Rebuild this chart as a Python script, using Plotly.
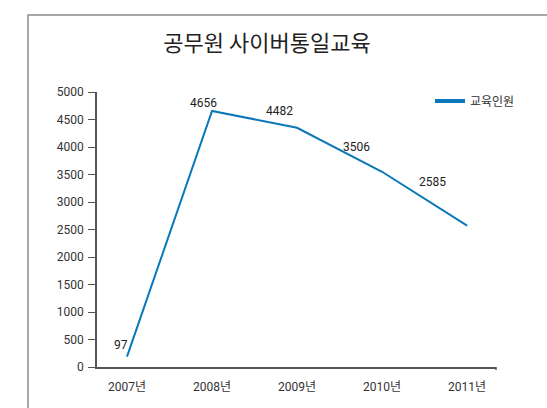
import plotly.graph_objects as go

years = ["2007년", "2008년", "2009년", "2010년", "2011년"]
line_values = [190, 4656, 4350, 3550, 2570]
label_texts = ["97", "4656", "4482", "3506", "2585"]
label_dx = [-6, -9, -18, -26, -35]
label_dy = [12, 8, 17, 25, 44]
y_ticks = [0, 500, 1000, 1500, 2000, 2500, 3000, 3500, 4000, 4500, 5000]
series_name = "교육인원"
title = "공무원 사이버통일교육"

FONT = "Roboto, 'Noto Sans CJK KR', sans-serif"
COLOR = "#0a78b8"
xs = list(range(len(years)))

fig = go.Figure()
fig.add_trace(go.Scatter(
    x=xs, y=line_values, mode="lines", name=series_name,
    line=dict(color=COLOR, width=2), showlegend=False,
))
fig.add_trace(go.Scatter(
    x=[None], y=[None], mode="lines", name=series_name,
    line=dict(color=COLOR, width=4), showlegend=True,
))

for i, (v, t) in enumerate(zip(line_values, label_texts)):
    fig.add_annotation(x=xs[i], y=v, text=t, showarrow=False,
                       xshift=label_dx[i], yshift=label_dy[i],
                       font=dict(family=FONT, size=12, color="#222"))

L, R, T, B = 97, 51, 92, 41
W, H = 547, 408
pw, ph = W - L - R, H - T - B

def px(x):
    return (x - L) / pw

def py(y):
    return (H - B - y) / ph

fig.add_shape(type="rect", xref="paper", yref="paper",
              x0=px(28), x1=px(560), y0=py(430), y1=py(15),
              line=dict(color="#8a8a8a", width=1.5), layer="below")
fig.add_shape(type="line", xref="paper", yref="paper",
              x0=1, x1=1, y0=0, y1=py(370),
              line=dict(color="#555", width=1.5))

fig.update_layout(
    width=W, height=H,
    margin=dict(l=L, r=R, t=T, b=B),
    paper_bgcolor="white", plot_bgcolor="white",
    title=dict(text=title, x=267 / W, xref="container", xanchor="center",
               y=1 - 43 / H, yref="container", yanchor="middle",
               font=dict(family="'Noto Sans CJK KR', sans-serif", size=22, color="#222")),
    font=dict(family=FONT, size=12, color="#333"),
    showlegend=True,
    legend=dict(x=px(430), y=py(101), xanchor="left", yanchor="middle",
                bgcolor="rgba(0,0,0,0)", font=dict(size=12, color="#333"),
                itemwidth=30),
    xaxis=dict(range=[-0.353, 4.34], tickmode="array", tickvals=xs, ticktext=years,
               showgrid=False, zeroline=False, showline=True, linecolor="#555",
               linewidth=1.5, ticks="", ticklabelstandoff=8, fixedrange=True),
    yaxis=dict(range=[0, 5000], tickmode="array", tickvals=y_ticks,
               showgrid=False, zeroline=False, showline=True, linecolor="#555",
               linewidth=1.5, ticks="outside", ticklen=7, tickcolor="#555",
               ticklabelstandoff=2),
)

fig.write_html("out.html", config={"displayModeBar": False},
               post_script="document.body.style.margin='0';document.body.style.overflow='hidden';")
